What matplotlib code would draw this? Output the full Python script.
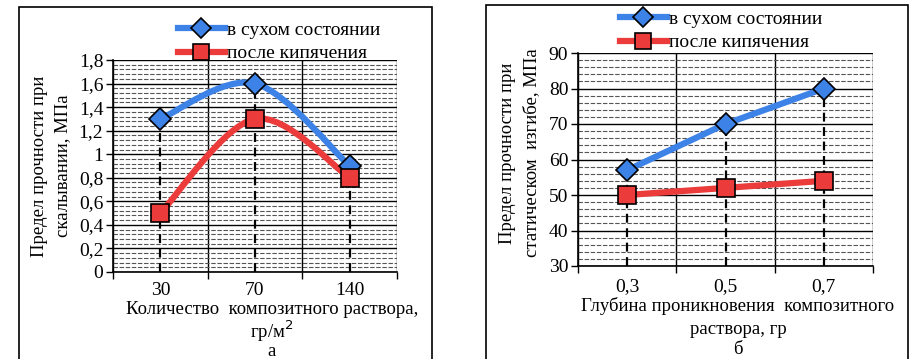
import numpy as np
import matplotlib
matplotlib.use("Agg")
import matplotlib.pyplot as plt
from matplotlib.path import Path
from matplotlib.patches import PathPatch, Rectangle
from matplotlib.lines import Line2D
from matplotlib.ticker import MultipleLocator, FixedLocator

plt.rcParams['font.family'] = ['Liberation Serif', 'DejaVu Serif']

# ---- data ----
cats_a = ["30", "70", "140"]
dry_a = [1.3, 1.6, 0.9]
boil_a = [0.5, 1.3, 0.8]

cats_b = ["0,3", "0,5", "0,7"]
dry_b = [57, 70, 80]
boil_b = [50, 52, 54]

series_names = ["в сухом состоянии", "после кипячения"]

BLUE = "#3d82e6"
RED = "#ec3b3b"

W, H = 911, 359
fig = plt.figure(figsize=(W / 100, H / 100), dpi=100)
fig.patch.set_facecolor("white")


def box(l, t, r, b):
    return [l / W, 1 - b / H, (r - l) / W, (b - t) / H]


def fx(x):
    return x / W


def fy(y):
    return 1 - y / H


def smooth_path(xs, ys):
    pts = np.column_stack([xs, ys]).astype(float)
    n = len(pts)
    verts = [pts[0]]
    codes = [Path.MOVETO]
    for i in range(n - 1):
        p0 = pts[i - 1] if i > 0 else pts[i]
        p1 = pts[i]
        p2 = pts[i + 1]
        p3 = pts[i + 2] if i + 2 < n else pts[i + 1]
        c1 = p1 + (p2 - p0) / 6.0
        c2 = p2 - (p3 - p1) / 6.0
        verts += [c1, c2, p2]
        codes += [Path.CURVE4] * 3
    return Path(verts, codes)


def setup(ax, cats, ymin, ymax, major, minor, xpad):
    x = np.arange(len(cats))
    ax.set_xlim(-0.5, len(cats) - 0.5)
    ax.set_ylim(ymin, ymax)
    ax.yaxis.set_major_locator(MultipleLocator(major))
    ax.yaxis.set_minor_locator(MultipleLocator(minor))
    ax.set_xticks(x)
    ax.set_xticklabels(cats)
    ax.xaxis.set_minor_locator(FixedLocator(np.arange(-0.5, len(cats), 1.0)))
    ax.grid(True, which="minor", axis="y", color="#555555", lw=0.8, ls=(0, (4, 1.5)))
    ax.grid(True, which="major", axis="y", color="black", lw=1.0)
    ax.grid(True, which="minor", axis="x", color="black", lw=1.0)
    ax.tick_params(axis="x", which="major", length=0, pad=xpad, labelsize=14)
    ax.tick_params(axis="x", which="minor", length=5, width=1.0, direction="out")
    ax.tick_params(axis="y", which="major", length=5, width=1.0, labelsize=14, pad=2)
    ax.tick_params(axis="y", which="minor", length=0)
    for s in ["top", "right"]:
        ax.spines[s].set_visible(False)
    for s in ["left", "bottom"]:
        ax.spines[s].set_color("black")
        ax.spines[s].set_linewidth(1.2)
    ax.set_axisbelow(True)
    return x


def fmt_comma(ax, decimals):
    labels = []
    for v in ax.get_yticks():
        if decimals == 0 or abs(v - round(v)) < 1e-9:
            labels.append(f"{v:.0f}")
        else:
            labels.append(f"{v:.{decimals}f}".replace(".", ","))
    ax.set_yticks(ax.get_yticks())
    ax.set_yticklabels(labels)


# ---------------- panel a ----------------
axa = fig.add_axes(box(113, 60, 397, 272))
xa = setup(axa, cats_a, 0, 1.8, 0.2, 0.04, 7)
fmt_comma(axa, 1)
axa.set_ylim(0, 1.8)
for xi, yi in zip(xa, dry_a):
    axa.plot([xi, xi], [0, yi], color="black", lw=1.6, ls=(0, (4, 2.5)), zorder=3)
for ys, col in [(dry_a, BLUE), (boil_a, RED)]:
    axa.add_patch(PathPatch(smooth_path(xa, ys), facecolor="none", edgecolor=col,
                            lw=4.5, capstyle="round", zorder=4))
axa.plot(xa, dry_a, ls="none", marker="D", ms=11, mfc=BLUE, mec="black", mew=1.2, zorder=5)
axa.plot(xa, boil_a, ls="none", marker="s", ms=13, mfc=RED, mec="black", mew=1.2, zorder=5)

# ---------------- panel b ----------------
axb = fig.add_axes(box(578, 53, 873, 266))
xb = setup(axb, cats_b, 30, 90, 10, 2, 9)
fmt_comma(axb, 0)
axb.set_ylim(30, 90)
for xi, yi in zip(xb, dry_b):
    axb.plot([xi, xi], [30, yi], color="black", lw=1.6, ls=(0, (4, 2.5)), zorder=3)
axb.plot(xb, dry_b, color=BLUE, lw=4.5, solid_capstyle="round", zorder=4)
axb.plot(xb, boil_b, color=RED, lw=4.5, solid_capstyle="round", zorder=4)
axb.plot(xb, dry_b, ls="none", marker="D", ms=11, mfc=BLUE, mec="black", mew=1.2, zorder=5)
axb.plot(xb, boil_b, ls="none", marker="s", ms=13, mfc=RED, mec="black", mew=1.2, zorder=5)

# ---------------- legends ----------------
handles = [
    Line2D([], [], color=BLUE, lw=4.5, marker="D", ms=10, mfc=BLUE, mec="black", mew=1.2),
    Line2D([], [], color=RED, lw=4.5, marker="s", ms=11, mfc=RED, mec="black", mew=1.2),
]
for (lx, ly) in [(178, 21), (620, 10)]:
    fig.legend(handles, series_names, loc="upper left", bbox_to_anchor=(fx(lx), fy(ly)),
               frameon=False, fontsize=14, handlelength=2.4, handletextpad=0.1,
               labelspacing=0.32, borderpad=0, borderaxespad=0)

# ---------------- labels ----------------
fs = 13.5
fig.text(fx(40), fy(166), "Предел прочности при", rotation=90, ha="center", va="center", fontsize=fs)
fig.text(fx(63), fy(166), "скалывании, МПа", rotation=90, ha="center", va="center", fontsize=fs)
fig.text(fx(507), fy(153), "Предел прочности при", rotation=90, ha="center", va="center", fontsize=fs)
fig.text(fx(532), fy(153), "статическом  изгибе, МПа", rotation=90, ha="center", va="center", fontsize=fs)

fig.text(fx(272), fy(310), "Количество  композитного раствора,", ha="center", va="center", fontsize=fs)
fig.text(fx(272), fy(331), "гр/м$^2$", ha="center", va="center", fontsize=fs)
fig.text(fx(272), fy(351), "а", ha="center", va="center", fontsize=fs)

fig.text(fx(738), fy(306), "Глубина проникновения  композитного", ha="center", va="center", fontsize=fs)
fig.text(fx(738), fy(329), "раствора, гр", ha="center", va="center", fontsize=fs)
fig.text(fx(738), fy(349), "б", ha="center", va="center", fontsize=fs)

# ---------------- panel frames ----------------
fig.add_artist(Rectangle((fx(19), fy(364)), fx(432 - 19), (364 - 7) / H,
                         transform=fig.transFigure, fill=False, ec="black", lw=1.2))
fig.add_artist(Rectangle((fx(486), fy(364)), fx(908 - 486), (364 - 5) / H,
                         transform=fig.transFigure, fill=False, ec="black", lw=1.2))

fig.savefig("out.png", dpi=100, facecolor="white")
